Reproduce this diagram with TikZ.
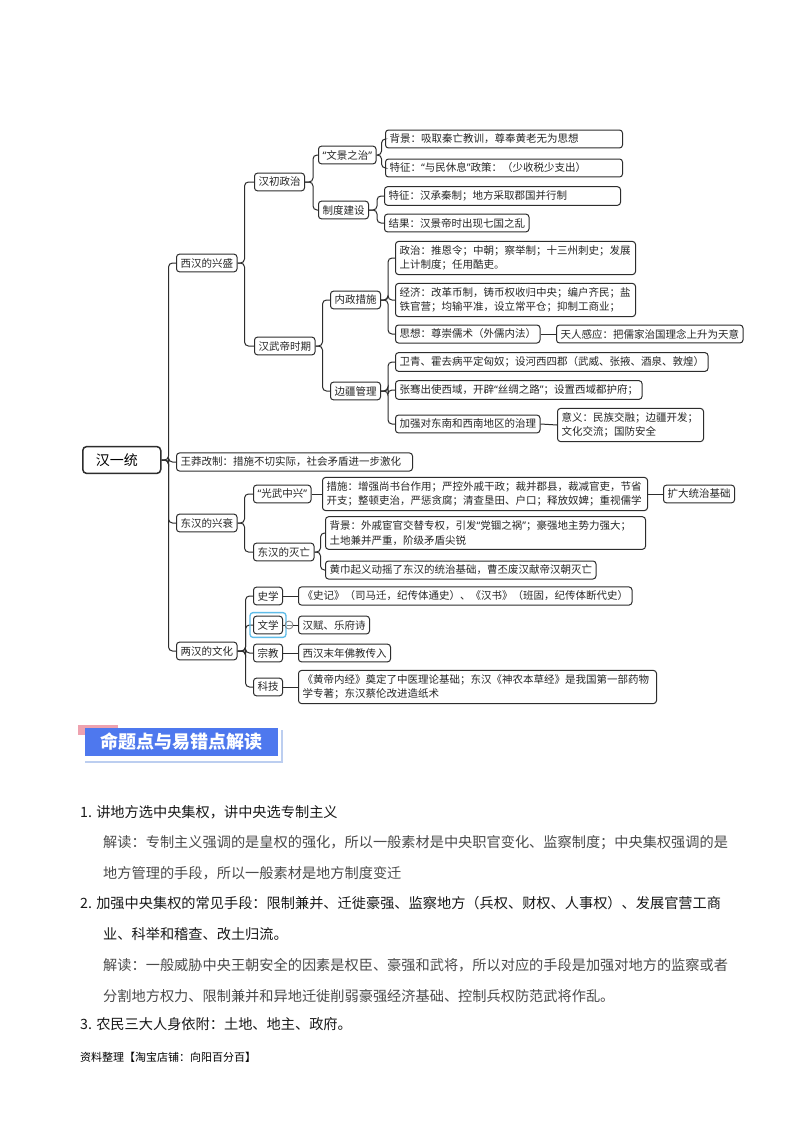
\documentclass[tikz,border=0pt]{standalone}
\usepackage{fontspec}
\setmainfont{Noto Sans CJK SC}
\newfontfamily\quotefont{Noto Sans}
\newcommand{\cnql}{{\quotefont “}}
\newcommand{\cnqr}{{\quotefont ”}}
\definecolor{linegray}{RGB}{45,45,45}
\definecolor{hlblue}{RGB}{95,188,232}
\definecolor{headblue}{RGB}{78,120,238}
\definecolor{headpink}{RGB}{238,162,175}
\definecolor{shadeblue}{RGB}{188,206,240}
\definecolor{bodygray}{RGB}{75,75,75}
\tikzset{
  box/.style={draw=linegray, line width=1pt, rounded corners=3pt, anchor=west,
    inner xsep=4pt, inner ysep=4pt, align=left, text=black!85,
    font=\fontsize{10.5}{14.5}\selectfont},
  rootbox/.style={draw=linegray, line width=1.5pt, rounded corners=4pt, anchor=west,
    inner xsep=13pt, inner ysep=7pt, text width=52pt, align=left,
    font=\fontsize{14}{16}\selectfont},
  link/.style={draw=linegray, line width=1pt, rounded corners=4pt},
  fold/.style={circle, draw=gray, line width=0.8pt, inner sep=0pt, minimum size=8pt},
  headtext/.style={text=white, font=\bfseries\fontsize{18}{20}\selectfont},
  bodyline/.style={anchor=west, inner sep=0pt, text=black!90, font=\fontsize{14.2}{16}\selectfont},
  noteline/.style={anchor=west, inner sep=0pt, text=bodygray, font=\fontsize{14.2}{16}\selectfont}
}
\begin{document}
\begin{tikzpicture}[x=1pt, y=-1pt]
\useasboundingbox[fill=white] (0,0) rectangle (800,1132);
% mind map
\node[rootbox] (root) at (82,460) {汉一统};
\node[box] (xh) at (176,263) {西汉的兴盛};
\node[box, text width=228pt] (wm) at (176,462) {王莽改制：措施不切实际，社会矛盾进一步激化};
\node[box] (dh) at (176,523) {东汉的兴衰};
\node[box] (lh) at (176,651) {两汉的文化};
\draw[link] (root.east) -- ++(7,0) |- (xh.west);
\draw[link] (root.east) -- ++(7,0) |- (wm.west);
\draw[link] (root.east) -- ++(7,0) |- (dh.west);
\draw[link] (root.east) -- ++(7,0) |- (lh.west);
% 西汉
\node[box] (hc) at (254,182) {汉初政治};
\node[box] (hw) at (254,346) {汉武帝时期};
\draw[link] (xh.east) -- ++(7,0) |- (hc.west);
\draw[link] (xh.east) -- ++(7,0) |- (hw.west);
\node[box] (wj) at (318,155) {\cnql 文景之治\cnqr};
\node[box] (zd) at (318,210) {制度建设};
\draw[link] (hc.east) -- ++(8,0) |- (wj.west);
\draw[link] (hc.east) -- ++(8,0) |- (zd.west);
\node[box, text width=229pt] (bj1) at (385,139) {背景：吸取秦亡教训，尊奉黄老无为思想};
\node[box, text width=229pt] (tz1) at (385,168) {特征：\cnql 与民休息\cnqr 政策：（少收税少支出）};
\draw[link] (wj.east) -- ++(5,0) |- (bj1.west);
\draw[link] (wj.east) -- ++(5,0) |- (tz1.west);
\node[box, text width=228pt] (tz2) at (384,196) {特征：汉承秦制；地方采取郡国并行制};
\node[box] (jg) at (384,223) {结果：汉景帝时出现七国之乱};
\draw[link] (zd.east) -- ++(8,0) |- (tz2.west);
\draw[link] (zd.east) -- ++(8,0) |- (jg.west);
\node[box] (nz) at (330,300) {内政措施};
\node[box] (bjg) at (330,391) {边疆管理};
\draw[link] (hw.east) -- ++(7,0) |- (nz.west);
\draw[link] (hw.east) -- ++(7,0) |- (bjg.west);
\node[box, text width=232pt] (zz) at (395,258) {政治：推恩令；中朝；察举制；十三州刺史；发展\\上计制度；任用酷吏。};
\node[box, text width=232pt] (jj) at (395,300) {经济：改革币制，铸币权收归中央；编户齐民；盐\\铁官营；均输平准，设立常平仓；抑制工商业；};
\node[box] (sx) at (395,334) {思想：尊崇儒术（外儒内法）};
\node[box] (tr) at (556,334) {天人感应：把儒家治国理念上升为天意};
\draw[link] (nz.east) -- ++(7,0) |- (zz.west);
\draw[link] (nz.east) -- ++(7,0) |- (jj.west);
\draw[link] (nz.east) -- ++(7,0) |- (sx.west);
\draw[link] (sx.east) -- (tr.west);
\node[box] (wq) at (395,362) {卫青、霍去病平定匈奴；设河西四郡（武威、张掖、酒泉、敦煌）};
\node[box] (zq) at (395,390) {张骞出使西域，开辟\cnql 丝绸之路\cnqr；设置西域都护府；};
\node[box] (jq) at (395,424) {加强对东南和西南地区的治理};
\node[box, text width=138pt] (yy) at (557,425) {意义：民族交融；边疆开发；\\文化交流；国防安全};
\draw[link] (bjg.east) -- ++(7,0) |- (wq.west);
\draw[link] (bjg.east) -- ++(7,0) |- (zq.west);
\draw[link] (bjg.east) -- ++(7,0) |- (jq.west);
\draw[link] (jq.east) -- (yy.west);
% 东汉
\node[box] (gw) at (253,494) {\cnql 光武中兴\cnqr};
\node[box] (dm) at (253,552) {东汉的灭亡};
\draw[link] (dh.east) -- ++(7,0) |- (gw.west);
\draw[link] (dh.east) -- ++(7,0) |- (dm.west);
\node[box, text width=317pt] (cs) at (322,494) {措施：增强尚书台作用；严控外戚干政；裁并郡县，裁减官吏，节省\\开支；整顿吏治，严惩贪腐；清查垦田、户口；释放奴婢；重视儒学};
\node[box] (kd) at (663,494) {扩大统治基础};
\draw[link] (gw.east) -- (cs.west);
\draw[link] (cs.east) -- (kd.west);
\node[box, text width=312pt] (bj3) at (325,533) {背景：外戚宦官交替专权，引发\cnql 党锢之祸\cnqr；豪强地主势力强大；\\土地兼并严重，阶级矛盾尖锐};
\node[box] (hj) at (325,570) {黄巾起义动摇了东汉的统治基础，曹丕废汉献帝汉朝灭亡};
\draw[link] (dm.east) -- ++(6,0) |- (bj3.west);
\draw[link] (dm.east) -- ++(6,0) |- (hj.west);
% 文化
\node[box] (sxue) at (253,596) {史学};
\node[box] (wx) at (253,625) {文学};
\node[box] (zj) at (253,653) {宗教};
\node[box] (kj) at (253,687) {科技};
\draw[link] (lh.east) -- ++(8,0) |- (sxue.west);
\draw[link] (lh.east) -- ++(8,0) |- (wx.west);
\draw[link] (lh.east) -- ++(8,0) |- (zj.west);
\draw[link] (lh.east) -- ++(8,0) |- (kj.west);
\draw[hlblue, line width=1.3pt, rounded corners=3pt] ([shift={(-3,-3)}]wx.north west) rectangle ([shift={(3,3)}]wx.south east);
\node[box] (sj) at (298,596) {《史记》（司马迁，纪传体通史）、《汉书》（班固，纪传体断代史）};
\node[fold] (fd) at (289,625) {};
\node[box] (hf) at (298,625) {汉赋、乐府诗};
\node[box] (fj) at (298,653) {西汉末年佛教传入};
\node[box, text width=350pt] (hd) at (298,687) {《黄帝内经》奠定了中医理论基础；东汉《神农本草经》是我国第一部药物\\学专著；东汉蔡伦改进造纸术};
\draw[link] (sxue.east) -- (sj.west);
\draw[link] (wx.east) -- (fd.west);
\draw[gray, line width=0.8pt] ([xshift=-2.5pt]fd.center) -- ([xshift=2.5pt]fd.center);
\draw[link] (fd.east) -- (hf.west);
\draw[link] (zj.east) -- (fj.west);
\draw[link] (kj.east) -- (hd.west);
% heading
\fill[headpink] (78,725) rectangle (118,735);
\fill[headblue] (85,728) rectangle (278,756);
\draw[shadeblue, line width=1.3pt] (282,730) -- (282,762) -- (85,762);
\node[headtext] (head) at (181,742) {命题点与易错点解读};
% notes
\node[bodyline] (p1) at (80,812) {1. 讲地方选中央集权，讲中央选专制主义};
\node[noteline] (n1a) at (103,843) {解读：专制主义强调的是皇权的强化，所以一般素材是中央职官变化、监察制度；中央集权强调的是};
\node[noteline] (n1b) at (103,873) {地方管理的手段，所以一般素材是地方制度变迁};
\node[bodyline] (p2a) at (80,903) {2. 加强中央集权的常见手段：限制兼并、迁徙豪强、监察地方（兵权、财权、人事权）、发展官营工商};
\node[bodyline] (p2b) at (103,934) {业、科举和稽查、改土归流。};
\node[noteline] (n2a) at (103,965) {解读：一般威胁中央王朝安全的因素是权臣、豪强和武将，所以对应的手段是加强对地方的监察或者};
\node[noteline] (n2b) at (103,996) {分割地方权力、限制兼并和异地迁徙削弱豪强经济基础、控制兵权防范武将作乱。};
\node[bodyline] (p3) at (80,1024) {3. 农民三大人身依附：土地、地主、政府。};
\node[anchor=west, inner sep=0pt, font=\fontsize{11}{13}\selectfont] (ft) at (80,1057) {资料整理【淘宝店铺：向阳百分百】};
\end{tikzpicture}
\end{document}
